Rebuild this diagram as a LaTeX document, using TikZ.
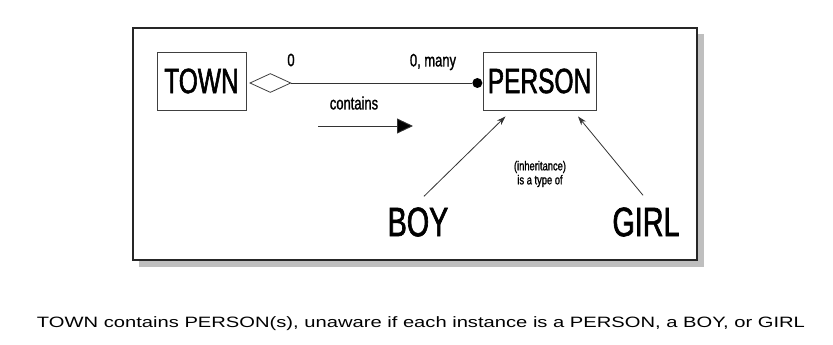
\documentclass[tikz,border=0pt]{standalone}
\usepackage{fontspec}
\setmainfont{Liberation Sans}
\newfontfamily\cond{Liberation Sans}[FakeStretch=0.7,FakeBold=1.6]
\newfontfamily\condsmall{Liberation Sans}[FakeStretch=0.72,FakeBold=1.2]
\usetikzlibrary{shapes.geometric,arrows.meta,calc}
\begin{document}
\begin{tikzpicture}[x=1pt,y=-1pt,
  box/.style={draw=black!75,line width=0.9pt,inner sep=0pt,font=\cond\fontsize{35}{35}\selectfont},
  big/.style={inner sep=0pt,font=\cond\fontsize{41}{41}\selectfont},
  lbl/.style={inner sep=0pt,font=\condsmall\fontsize{18}{18}\selectfont},
  tiny/.style={inner sep=0pt,align=center,font=\condsmall\fontsize{13}{14}\selectfont},
  inh/.style={draw=black!80,line width=0.8pt,-{Stealth[length=9pt,width=6pt]}}]
\useasboundingbox (0,0) rectangle (833,345);
\fill[white] (0,0) rectangle (833,345);
% frame with shadow
\fill[black!25] (139,34) rectangle (704,267);
\draw[line width=1.6pt,fill=white,draw=black!85] (133,28) rectangle (697,260);
% nodes
\node[box,minimum width=89pt,minimum height=58pt] (town) at (201.5,81) {TOWN};
\node[box,minimum width=113pt,minimum height=58pt] (person) at (539.5,81) {PERSON};
\node[draw=black!75,line width=0.8pt,shape=diamond,minimum width=41pt,minimum height=19pt,inner sep=0pt,anchor=west] (dia) at ($(town.east)+(3,2)$) {};
\node[circle,fill=black,minimum size=10pt,inner sep=0pt,anchor=east] (dot) at ($(person.west)+(0,2)$) {};
\draw[line width=0.8pt,draw=black!80] (dia.east) -- (dot.west);
\node[lbl] (zero) at (291,60) {0};
\node[lbl] (many) at (433,62) {0, many};
\node[lbl] (contains) at (354,103) {contains};
\coordinate (ca) at (318,126);
\coordinate (cb) at (413,126);
\draw[line width=0.9pt,draw=black!80,-{Triangle[length=16pt,width=15pt,fill=black]}] (ca) -- (cb);
\node[big] (boy) at (418,222) {BOY};
\node[big] (girl) at (646,222) {GIRL};
\node[tiny] (inhlabel) at (540,174) {(inheritance)\\is a type of};
\draw[inh] ($(boy.north)+(6,-11)$) -- ($(person.south)+(-34,6)$);
\draw[inh] ($(girl.north)+(-3,-12)$) -- ($(person.south)+(38.5,6)$);
\node[inner sep=0pt] (caption) at (421,324) {\resizebox{768pt}{\height}{\fontsize{15}{15}\selectfont TOWN contains PERSON(s), unaware if each instance is a PERSON, a BOY, or GIRL}};
\end{tikzpicture}
\end{document}
